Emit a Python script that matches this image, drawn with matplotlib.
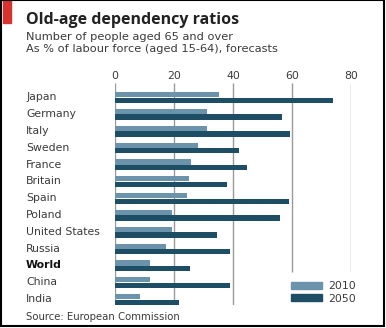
import matplotlib.pyplot as plt
from matplotlib.patches import Rectangle, Patch

countries = ["Japan", "Germany", "Italy", "Sweden", "France", "Britain", "Spain",
             "Poland", "United States", "Russia", "World", "China", "India"]
r2010 = [35.4, 31.3, 31.1, 28.0, 25.9, 25.0, 24.4, 19.2, 19.2, 17.2, 11.8, 11.8, 8.5]
r2050 = [74.0, 56.7, 59.4, 42.0, 44.8, 38.1, 59.0, 55.9, 34.5, 39.1, 25.5, 39.0, 21.6]
ticks = [0, 20, 40, 60, 80]

light = "#6b93ab"
dark = "#1e4d66"
grid = "#9a9a9a"
txt = "#3a3a3a"
plt.rcParams['font.family'] = ['DejaVu Sans']

W, H = 386, 328
fig = plt.figure(figsize=(W / 100, H / 100), dpi=100)

def fx(px):
    return px / W

def fy(py):
    return 1 - py / H

# axes: x 115..351 px, y 83..305 px
ax = fig.add_axes([fx(115), fy(305), fx(351) - fx(115), (305 - 83) / H])
ax.set_xlim(0, 80)
ax.set_ylim(12.33, -0.86)
for s in ax.spines.values():
    s.set_visible(False)

ys = list(range(len(countries)))
h = 0.31
ax.barh([y - 0.165 for y in ys], r2010, height=h, color=light, zorder=3)
ax.barh([y + 0.165 for y in ys], r2050, height=h, color=dark, zorder=3)

# grid lines, the two right ones stop above the legend
for t in ticks:
    bottom = 12.33 if t <= 40 else 10.39
    ax.vlines(t, -0.86, bottom, color=grid, lw=1.0, zorder=1)

ax.xaxis.tick_top()
ax.set_xticks(ticks)
ax.tick_params(axis='x', length=0, pad=1.5, labelsize=7.8, labelcolor=txt)
ax.set_yticks([])

for y, c in zip(ys, countries):
    fig.text(fx(26), fy(97.5 + y * 16.8), c, ha='left', va='center', fontsize=7.8,
             color=txt if c != "World" else "#111111",
             fontweight='bold' if c == "World" else 'normal')

leg = ax.legend(handles=[Patch(color=light, label="2010"), Patch(color=dark, label="2050")],
                loc='upper left', bbox_to_anchor=(fx(291), fy(281)), bbox_transform=fig.transFigure,
                frameon=False, fontsize=7.8, handlelength=2.9, handleheight=0.6,
                labelspacing=0.25, handletextpad=0.5, borderaxespad=0, borderpad=0)
for t in leg.get_texts():
    t.set_color(txt)

fig.text(fx(26), fy(24), "Old-age dependency ratios", fontsize=11.5, fontweight='bold',
         color="#222222", va='baseline', family=['Open Sans', 'DejaVu Sans'])
fig.text(fx(26), fy(40), "Number of people aged 65 and over", fontsize=8.2, color=txt, va='baseline')
fig.text(fx(26), fy(52.5), "As % of labour force (aged 15-64), forecasts", fontsize=8.2,
         color=txt, va='baseline')
fig.text(fx(26), fy(320), "Source: European Commission", fontsize=7.3, color=txt, va='baseline')

fig.patches.append(Rectangle((fx(3), fy(23)), fx(8), 23 / H, transform=fig.transFigure,
                             color="#d6322e", zorder=5))
fig.patches.append(Rectangle((fx(1), fy(326)), fx(383), 326 / H, transform=fig.transFigure,
                             fill=False, edgecolor='black', lw=1.5, zorder=5))

fig.savefig("out.png", dpi=100)
